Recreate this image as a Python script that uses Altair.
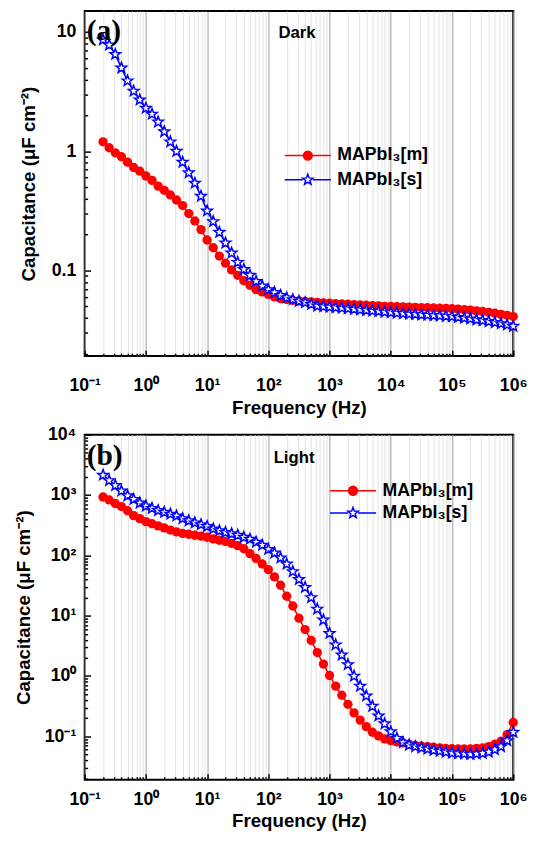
import json
import altair as alt
import pandas as pd

# ---------------- data ----------------
LOGF_TENTHS = list(range(-7, 61))          # frequency grid, 10 points / decade
FREQ = [10 ** (t / 10) for t in LOGF_TENTHS]

SERIES = ["MAPbI\u2083[m]", "MAPbI\u2083[s]"]
COLORS = ["#ff0000", "#0000ff"]
FILLS = ["#ff0000", "#ffffff"]

DARK_M = [1.20, 1.07, 0.97, 0.90, 0.81, 0.73, 0.68, 0.62, 0.57, 0.51,
          0.47, 0.43, 0.39, 0.35, 0.30, 0.26, 0.22, 0.18, 0.155, 0.132,
          0.115, 0.101, 0.091, 0.082, 0.075, 0.069, 0.066, 0.063, 0.060, 0.058,
          0.057, 0.056, 0.0555, 0.055, 0.0545, 0.054, 0.0535, 0.053, 0.0527, 0.0523,
          0.052, 0.0517, 0.0513, 0.051, 0.0507, 0.0504, 0.050, 0.0498, 0.0496, 0.0494,
          0.0492, 0.049, 0.0488, 0.0486, 0.0484, 0.0482, 0.048, 0.0477, 0.0473, 0.0469,
          0.0464, 0.0458, 0.0452, 0.0445, 0.0437, 0.0428, 0.042, 0.041]
DARK_S = [8.6, 7.8, 6.5, 5.0, 3.9, 3.2, 2.7, 2.3, 2.05, 1.76,
          1.46, 1.20, 1.00, 0.81, 0.66, 0.54, 0.42, 0.316, 0.257, 0.209,
          0.170, 0.140, 0.117, 0.102, 0.091, 0.081, 0.074, 0.069, 0.0653, 0.0617,
          0.0589, 0.0569, 0.0552, 0.0537, 0.0519, 0.0503, 0.0498, 0.0493, 0.0488, 0.0483,
          0.0478, 0.0473, 0.0468, 0.0463, 0.0458, 0.0453, 0.0448, 0.0443, 0.0439, 0.0435,
          0.0431, 0.0428, 0.0425, 0.0422, 0.0419, 0.0416, 0.0413, 0.041, 0.0404, 0.0398,
          0.0392, 0.0386, 0.038, 0.0373, 0.0366, 0.0358, 0.035, 0.034]
LIGHT_M = [930, 830, 725, 645, 550, 457, 407, 363, 335, 309,
           285, 263, 245, 232, 224, 216, 209, 200, 188, 178,
           170, 158, 145, 129, 107, 89, 72, 58, 44, 32,
           21, 14.5, 9.1, 5.9, 3.9, 2.45, 1.58, 1.02, 0.68, 0.48,
           0.34, 0.245, 0.186, 0.145, 0.117, 0.102, 0.091, 0.085, 0.081, 0.078,
           0.074, 0.071, 0.069, 0.0676, 0.066, 0.0646, 0.063, 0.0624, 0.0617, 0.0617,
           0.0617, 0.063, 0.0646, 0.0676, 0.074, 0.083, 0.107, 0.17]
LIGHT_S = [2140, 1740, 1445, 1175, 977, 851, 741, 661, 603, 556,
           519, 484, 452, 407, 376, 347, 324, 302, 275, 257,
           240, 229, 216, 200, 186, 166, 148, 126, 110, 91,
           72, 54, 40, 29.5, 20, 12.9, 8.5, 5.1, 3.3, 2.24,
           1.55, 1.0, 0.68, 0.47, 0.316, 0.219, 0.162, 0.120, 0.093, 0.079,
           0.072, 0.0676, 0.0646, 0.0617, 0.0589, 0.0569, 0.055, 0.0531, 0.0519, 0.0513,
           0.0507, 0.0513, 0.0525, 0.055, 0.0603, 0.0676, 0.085, 0.117]

X_TICKS = [0.1, 1, 10, 100, 1000, 10000, 100000, 1000000]
X_LABELS = ["10\u207b\u00b9", "10\u2070", "10\u00b9", "10\u00b2", "10\u00b3",
            "10\u2074", "10\u2075", "10\u2076"]
Y_TICKS_A = [0.1, 1, 10]
Y_LABELS_A = ["0.1", "1", "10"]
Y_TICKS_B = [0.1, 1, 10, 100, 1000, 10000]
Y_LABELS_B = ["10\u207b\u00b9", "10\u2070", "10\u00b9", "10\u00b2", "10\u00b3", "10\u2074"]
ANNOT_A = ["(a)", "Dark"]
ANNOT_B = ["(b)", "Light"]

X_TITLE = "Frequency (Hz)"
Y_TITLE = "Capacitance (\u03bcF cm\u207b\u00b2)"

# ---------------- styling helpers ----------------
FONT = "Liberation Sans"
X_DOMAIN = [0.1, 1e6]


def minors(decades, lo, hi):
    out = []
    for d in decades:
        for k in range(2, 10):
            v = k * d
            if lo <= v <= hi:
                out.append(v)
    return out


X_MINOR = minors([0.1, 1, 10, 100, 1000, 10000, 100000], *X_DOMAIN)


def label_expr(vals, labels):
    expr = "''"
    for v, l in reversed(list(zip(vals, labels))):
        expr = f"(abs(datum.value - {v}) < {v * 1e-6}) ? '{l}' : ({expr})"
    return expr


def star_path(r_out, r_in):
    import math
    pts = []
    for i in range(10):
        r = r_out if i % 2 == 0 else r_in
        a = math.radians(-90 + 36 * i)
        pts.append(f"{r * math.cos(a):.3f},{r * math.sin(a):.3f}")
    return "M" + " L".join(pts) + " Z"


STAR = star_path(1.0, 0.42)
LEG_CIRCLE = ("M-2.3,0H-0.44 M0.44,0H2.3 "
              "M0.44,0A0.44,0.44 0 1,1 -0.44,0A0.44,0.44 0 1,1 0.44,0Z")
LEG_STAR = "M-2.3,0H-0.5 M0.5,0H2.3 " + star_path(0.55, 0.23)


def panel(vm, vs, y_domain, y_ticks, y_labels, w, h, extent, annot,
          tag_y, cond_xy, leg_xy, leg_row, lab_pad, title_pad):
    df = pd.DataFrame({
        "f": FREQ + FREQ,
        "c": vm + vs,
        "s": [SERIES[0]] * len(FREQ) + [SERIES[1]] * len(FREQ),
    })
    y_minor = minors([0.01, 0.1, 1, 10, 100, 1000], *y_domain)
    xs = alt.Scale(type="log", domain=X_DOMAIN, nice=False)
    ys = alt.Scale(type="log", domain=y_domain, nice=False)
    base = alt.Chart(df)

    grid_test = f"indexof({json.dumps(X_TICKS)}, datum.value) >= 0"
    main_x = alt.Axis(
        orient="bottom", values=X_TICKS + X_MINOR,
        labelExpr=label_expr(X_TICKS, X_LABELS),
        grid=True,
        gridColor={"condition": {"test": grid_test, "value": "#9c9c9c"}, "value": "#e2e2e2"},
        gridWidth=1, ticks=False, domain=False,
        labelFont=FONT, labelFontSize=18, labelFontWeight="bold", labelColor="black",
        labelPadding=lab_pad, labelFlush=False, labelOverlap=False,
        title=X_TITLE, titleFont=FONT, titleFontSize=19, titleFontWeight="bold",
        titleColor="black", titlePadding=title_pad,
    )
    main_y = alt.Axis(
        orient="left", values=y_ticks, labelExpr=label_expr(y_ticks, y_labels),
        grid=False, ticks=False, domain=False,
        labelFont=FONT, labelFontSize=18, labelFontWeight="bold", labelColor="black",
        labelPadding=9, labelFlush=False, labelOverlap=False,
        minExtent=extent, maxExtent=extent,
        title=Y_TITLE, titleFont=FONT, titleFontSize=19, titleFontWeight="bold",
        titleColor="black", titlePadding=12,
    )

    def tick_axis(orient, vals, size):
        return alt.Axis(orient=orient, values=vals, offset=-size, tickSize=size,
                        ticks=True, labels=False, domain=False, grid=False, title=None,
                        tickColor="black", tickWidth=1.5)

    def sub(i):
        return base.transform_filter(alt.datum.s == SERIES[i])

    red_line = sub(0).mark_line(color=COLORS[0], strokeWidth=1.6).encode(
        x=alt.X("f:Q", scale=xs, axis=main_x),
        y=alt.Y("c:Q", scale=ys, axis=main_y))
    red_pts = sub(0).mark_point(shape="circle", filled=True, color=COLORS[0],
                                size=90, opacity=1).encode(
        x=alt.X("f:Q", scale=xs, axis=None), y=alt.Y("c:Q", scale=ys, axis=None))
    blue_line = sub(1).mark_line(color=COLORS[1], strokeWidth=1.6).encode(
        x=alt.X("f:Q", scale=xs, axis=None), y=alt.Y("c:Q", scale=ys, axis=None))
    blue_pts = sub(1).mark_point(shape=STAR, filled=True, fill=FILLS[1], stroke=COLORS[1],
                                 strokeWidth=1.5, size=130, opacity=1).encode(
        x=alt.X("f:Q", scale=xs, axis=None), y=alt.Y("c:Q", scale=ys, axis=None))

    major = base.mark_point(opacity=0).encode(
        x=alt.X("f:Q", scale=xs, axis=tick_axis("bottom", X_TICKS, 6)),
        y=alt.Y("c:Q", scale=ys, axis=tick_axis("left", y_ticks, 6)))
    minor = base.mark_point(opacity=0).encode(
        x=alt.X("f:Q", scale=xs, axis=tick_axis("bottom", X_MINOR, 3)),
        y=alt.Y("c:Q", scale=ys, axis=tick_axis("left", y_minor, 3)))

    leg = alt.Legend(orient="none", legendX=leg_xy[0], legendY=leg_xy[1], title=None,
                     labelFont=FONT, labelFontSize=18, labelFontWeight="bold",
                     labelColor="black", symbolSize=416, symbolStrokeWidth=1.5,
                     labelOffset=19, rowPadding=leg_row, padding=0)
    legend = base.transform_filter("false").mark_point(opacity=1, strokeWidth=1.5).encode(
        x=alt.X("f:Q", scale=xs, axis=None), y=alt.Y("c:Q", scale=ys, axis=None),
        shape=alt.Shape("s:N", scale=alt.Scale(domain=SERIES, range=[LEG_CIRCLE, LEG_STAR]), legend=leg),
        stroke=alt.Stroke("s:N", scale=alt.Scale(domain=SERIES, range=COLORS), legend=leg),
        fill=alt.Fill("s:N", scale=alt.Scale(domain=SERIES, range=FILLS), legend=leg),
    )

    tag = alt.Chart(pd.DataFrame({"t": [annot[0]]})).mark_text(
        font="Liberation Serif", fontSize=30, fontWeight="bold", align="left",
        baseline="middle", color="black").encode(
        text="t:N", x=alt.value(2), y=alt.value(tag_y))
    cond = alt.Chart(pd.DataFrame({"t": [annot[1]]})).mark_text(
        font=FONT, fontSize=17, fontWeight="bold", align="center",
        baseline="middle", color="black").encode(
        text="t:N", x=alt.value(cond_xy[0]), y=alt.value(cond_xy[1]))

    return alt.layer(red_line, major, minor, red_pts, blue_line, blue_pts,
                     legend, tag, cond).resolve_axis(
        x="independent", y="independent").resolve_scale(
        shape="independent", stroke="independent", fill="independent").properties(
        width=w, height=h)


pa = panel(DARK_M, DARK_S, [0.0191, 15.0], Y_TICKS_A, Y_LABELS_A, 436, 351, 35,
           ANNOT_A, 20, (216, 22), (216, 136), 4.6, 21, 4)
pb = panel(LIGHT_M, LIGHT_S, [0.0191, 10000], Y_TICKS_B, Y_LABELS_B, 436, 351, 40,
           ANNOT_B, 22, (213, 24), (262, 46), 2.6, 11, 4)

chart = alt.concat(pa, pb, columns=1, spacing=7, align="none").properties(
    padding={"left": 6, "top": -5, "right": -2, "bottom": -8},
    background="white",
).configure_view(stroke="black", strokeWidth=2, fill="white")

chart.save("out.html", embed_options={"renderer": "svg", "actions": False})
